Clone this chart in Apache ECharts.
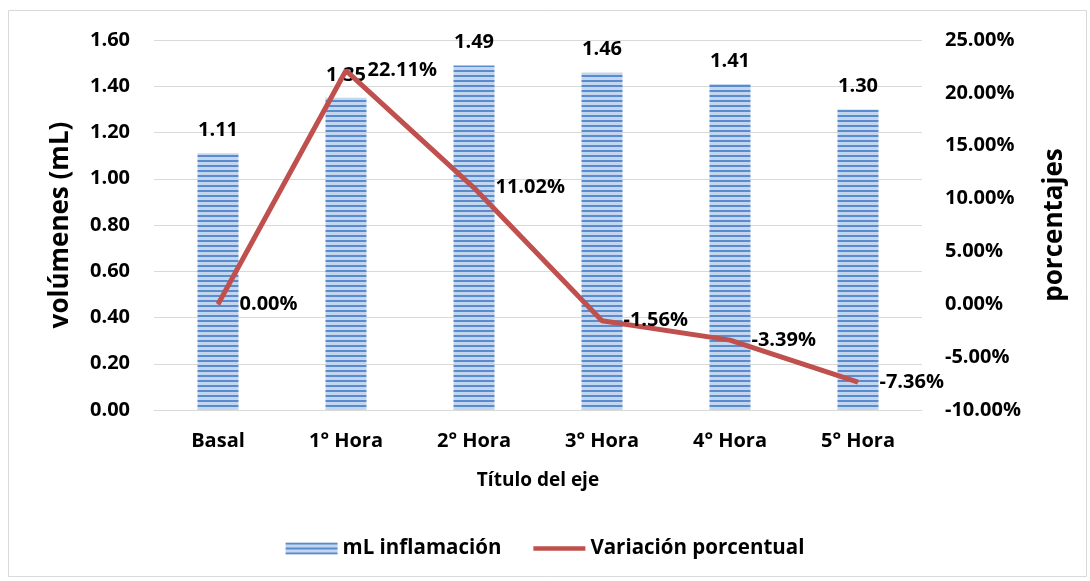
<!DOCTYPE html>
<html>
<head>
<meta charset="utf-8">
<script src="https://cdn.jsdelivr.net/npm/echarts@6/dist/echarts.min.js"></script>
<style>
  html, body { margin: 0; padding: 0; background: #fff; }
  #chart { width: 1090px; height: 581px; }
</style>
</head>
<body>
<div id="chart"></div>
<script>
// datos
var categorias = ['Basal', '1° Hora', '2° Hora', '3° Hora', '4° Hora', '5° Hora'];
var volumenes = [1.11, 1.35, 1.49, 1.46, 1.41, 1.30];
var variacion = [0.00, 22.11, 11.02, -1.56, -3.39, -7.36];

var FONT = '"Open Sans", sans-serif';

// patron de rayas horizontales para las barras
function stripePattern() {
    var c = document.createElement('canvas');
    c.width = 4;
    c.height = 5;
    var ctx = c.getContext('2d');
    ctx.fillStyle = '#c3d6f0';
    ctx.fillRect(0, 0, 4, 5);
    ctx.fillStyle = '#5a8bcc';
    ctx.fillRect(0, 0, 4, 2);
    return c;
}
var pattern = { image: stripePattern(), repeat: 'repeat' };

var txt = function (size) {
    return { fontFamily: FONT, fontWeight: 'bold', fontSize: size, color: '#000' };
};

var chart = echarts.init(document.getElementById('chart'));

chart.setOption({
    animation: false,
    textStyle: { fontFamily: FONT },
    graphic: [{
        type: 'rect',
        shape: { x: 8.5, y: 10.5, width: 1078, height: 566 },
        style: { fill: 'none', stroke: '#d9d9d9', lineWidth: 1 }
    }],
    grid: { left: 154, right: 168, top: 40, bottom: 171 },
    legend: {
        bottom: 17,
        left: 'center',
        itemGap: 32,
        textStyle: txt(20.5),
        data: [
            { name: 'mL inflamación', icon: 'rect', itemStyle: { color: pattern } },
            { name: 'Variación porcentual', icon: 'path://M0,0 H55 V5 H0 Z', itemStyle: { color: '#c0504d' } }
        ],
        itemWidth: 52,
        itemHeight: 12
    },
    xAxis: {
        type: 'category',
        data: categorias,
        name: 'Título del eje',
        nameLocation: 'middle',
        nameGap: 61,
        nameTextStyle: txt(19),
        axisLine: { lineStyle: { color: '#d9d9d9', width: 1 } },
        axisTick: { show: false },
        axisLabel: Object.assign({ margin: 21 }, txt(20))
    },
    yAxis: [{
        type: 'value',
        min: 0,
        max: 1.6,
        interval: 0.2,
        name: 'volúmenes (mL)',
        nameLocation: 'middle',
        nameRotate: 90,
        nameGap: 80,
        nameTextStyle: txt(26),
        axisLine: { show: false },
        axisTick: { show: false },
        axisLabel: Object.assign({
            margin: 24,
            formatter: function (v) { return v.toFixed(2); }
        }, txt(20)),
        splitLine: { lineStyle: { color: '#d9d9d9', width: 1 } }
    }, {
        type: 'value',
        min: -10,
        max: 25,
        interval: 5,
        name: 'porcentajes',
        nameLocation: 'middle',
        nameRotate: 90,
        nameGap: 120,
        nameTextStyle: txt(26),
        axisLine: { show: false },
        axisTick: { show: false },
        axisLabel: Object.assign({
            margin: 23,
            formatter: function (v) { return v.toFixed(2) + '%'; }
        }, txt(20)),
        splitLine: { show: false }
    }],
    series: [{
        name: 'mL inflamación',
        type: 'bar',
        yAxisIndex: 0,
        barWidth: 41,
        data: volumenes,
        itemStyle: { color: pattern },
        label: Object.assign({
            show: true,
            position: 'top',
            distance: 13,
            formatter: function (p) { return p.value.toFixed(2); }
        }, txt(20))
    }, {
        name: 'Variación porcentual',
        type: 'line',
        yAxisIndex: 1,
        data: variacion,
        symbol: 'circle',
        symbolSize: 1,
        showSymbol: true,
        lineStyle: { color: '#c0504d', width: 5 },
        itemStyle: { color: '#c0504d' },
        label: Object.assign({
            show: true,
            position: 'right',
            distance: 21,
            formatter: function (p) { return p.value.toFixed(2) + '%'; }
        }, txt(20))
    }]
});
</script>
</body>
</html>
